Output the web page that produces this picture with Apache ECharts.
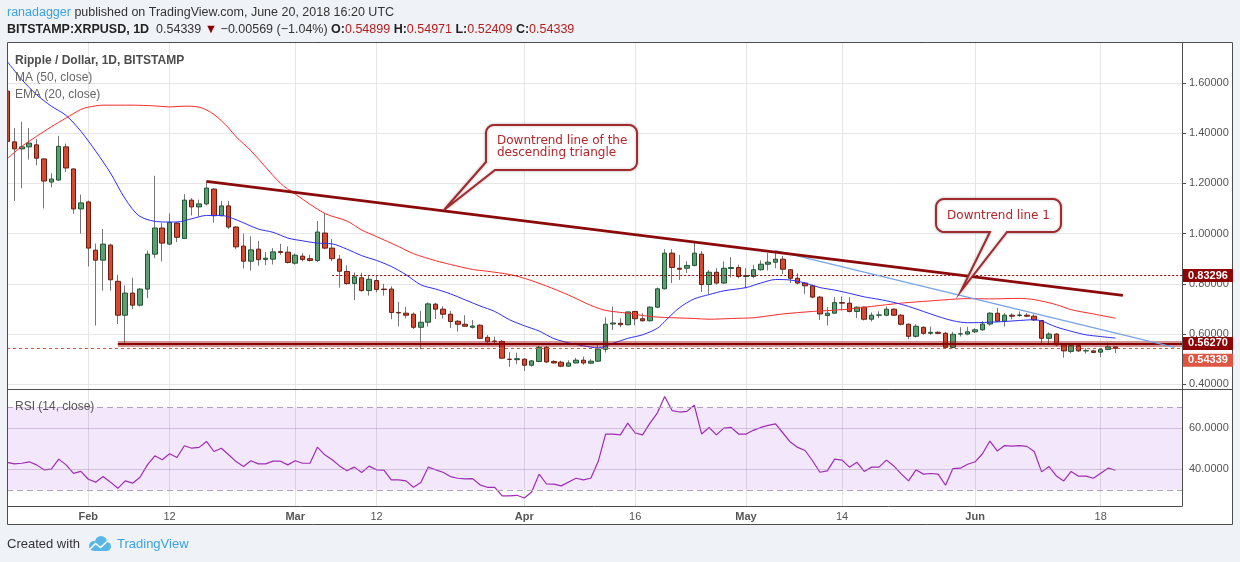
<!DOCTYPE html>
<html>
<head>
<meta charset="utf-8">
<title>Ripple / Dollar, 1D, BITSTAMP</title>
<script src="https://cdn.jsdelivr.net/npm/echarts@6/dist/echarts.min.js"></script>
<style>
  html, body { margin: 0; padding: 0; background: #eff2f6; }
  #chart { width: 1240px; height: 562px; }
</style>
</head>
<body>
<div id="chart"></div>
<script>
// XRPUSD daily candles, 2018-01-21 .. 2018-06-20
const opens = [].concat(
  [1.567, 1.365, 1.337, 1.345, 1.353, 1.297, 1.205, 1.213, 1.345, 1.257, 1.098],
  [1.126, 0.934, 0.894, 0.954, 0.81, 0.675, 0.763, 0.715, 0.779, 0.918, 1.022, 0.958, 1.042, 0.98, 1.133, 1.106, 1.118, 1.177, 1.071, 1.11, 1.026, 0.95, 0.89, 0.938, 0.897, 0.898, 0.928, 0.926],
  [0.882, 0.91, 0.9, 0.893, 1.002, 0.942, 0.898, 0.849, 0.801, 0.824, 0.773, 0.813, 0.779, 0.779, 0.686, 0.683, 0.679, 0.627, 0.647, 0.719, 0.699, 0.679, 0.651, 0.639, 0.627, 0.635, 0.587, 0.572, 0.571, 0.5, 0.498],
  [0.5, 0.476, 0.491, 0.547, 0.491, 0.488, 0.472, 0.485, 0.496, 0.484, 0.492, 0.539, 0.64, 0.643, 0.637, 0.69, 0.661, 0.653, 0.707, 0.78, 0.922, 0.862, 0.862, 0.873, 0.918, 0.797, 0.846, 0.803, 0.861, 0.865],
  [0.829, 0.829, 0.856, 0.878, 0.886, 0.898, 0.856, 0.822, 0.803, 0.792, 0.747, 0.674, 0.683, 0.725, 0.723, 0.69, 0.707, 0.659, 0.675, 0.675, 0.699, 0.675, 0.639, 0.591, 0.627, 0.603, 0.607, 0.603, 0.547, 0.6, 0.6],
  [0.609, 0.617, 0.64, 0.683, 0.651, 0.675, 0.674, 0.675, 0.671, 0.654, 0.583, 0.6, 0.557, 0.531, 0.554, 0.533, 0.533, 0.528, 0.539, 0.54899]
)
const highs = [].concat(
  [1.62, 1.42, 1.445, 1.42, 1.377, 1.30, 1.24, 1.389, 1.358, 1.26, 1.155],
  [1.131, 0.96, 1.018, 0.96, 0.836, 0.793, 0.824, 0.783, 0.932, 1.23, 1.042, 1.08, 1.046, 1.157, 1.141, 1.135, 1.209, 1.18, 1.13, 1.13, 1.03, 1.0, 0.989, 0.971, 0.927, 0.942, 0.959, 0.949],
  [0.92, 0.922, 0.916, 1.05, 1.082, 0.978, 0.915, 0.874, 0.845, 0.844, 0.832, 0.832, 0.8, 0.79, 0.728, 0.708, 0.686, 0.692, 0.726, 0.724, 0.71, 0.692, 0.656, 0.675, 0.656, 0.639, 0.596, 0.59, 0.576, 0.528, 0.526],
  [0.504, 0.497, 0.553, 0.552, 0.496, 0.494, 0.496, 0.505, 0.51, 0.5, 0.558, 0.666, 0.709, 0.663, 0.69, 0.692, 0.683, 0.71, 0.785, 0.938, 0.938, 0.915, 0.89, 0.969, 0.93, 0.855, 0.862, 0.889, 0.906, 0.876],
  [0.862, 0.876, 0.893, 0.922, 0.933, 0.911, 0.858, 0.842, 0.806, 0.797, 0.752, 0.708, 0.747, 0.75, 0.747, 0.71, 0.71, 0.686, 0.69, 0.71, 0.702, 0.68, 0.643, 0.639, 0.63, 0.63, 0.611, 0.609, 0.609, 0.627, 0.629],
  [0.623, 0.651, 0.687, 0.704, 0.683, 0.683, 0.69, 0.683, 0.679, 0.656, 0.607, 0.604, 0.561, 0.561, 0.558, 0.544, 0.537, 0.541, 0.566, 0.54971]
)
const lows = [].concat(
  [1.30, 1.13, 1.18, 1.294, 1.272, 1.10, 1.184, 1.21, 1.245, 1.079, 1.0],
  [0.869, 0.634, 0.773, 0.773, 0.64, 0.563, 0.699, 0.71, 0.743, 0.902, 0.889, 0.954, 0.966, 0.98, 1.072, 1.068, 1.112, 1.044, 1.068, 1.018, 0.938, 0.861, 0.853, 0.872, 0.874, 0.877, 0.915, 0.881],
  [0.876, 0.889, 0.889, 0.887, 0.938, 0.89, 0.785, 0.796, 0.735, 0.769, 0.753, 0.766, 0.753, 0.659, 0.63, 0.663, 0.62, 0.54, 0.63, 0.66, 0.662, 0.624, 0.61, 0.63, 0.622, 0.58, 0.557, 0.56, 0.5, 0.47, 0.48],
  [0.453, 0.47, 0.488, 0.484, 0.482, 0.468, 0.47, 0.483, 0.478, 0.481, 0.489, 0.527, 0.616, 0.627, 0.635, 0.635, 0.65, 0.65, 0.703, 0.778, 0.803, 0.815, 0.843, 0.869, 0.767, 0.76, 0.797, 0.8, 0.825, 0.822],
  [0.782, 0.822, 0.852, 0.853, 0.862, 0.838, 0.803, 0.797, 0.76, 0.742, 0.656, 0.634, 0.68, 0.694, 0.686, 0.663, 0.654, 0.65, 0.663, 0.671, 0.672, 0.634, 0.579, 0.586, 0.597, 0.597, 0.599, 0.543, 0.543, 0.59, 0.595],
  [0.604, 0.613, 0.633, 0.647, 0.63, 0.659, 0.668, 0.667, 0.652, 0.56, 0.56, 0.551, 0.506, 0.523, 0.529, 0.522, 0.524, 0.508, 0.536, 0.52409]
)
const closes = [].concat(
  [1.367, 1.337, 1.345, 1.36, 1.30, 1.209, 1.217, 1.347, 1.261, 1.098, 1.122],
  [0.942, 0.894, 0.958, 0.816, 0.675, 0.763, 0.715, 0.779, 0.918, 1.022, 0.962, 1.044, 0.985, 1.133, 1.106, 1.118, 1.181, 1.071, 1.11, 1.026, 0.947, 0.89, 0.935, 0.896, 0.902, 0.927, 0.925, 0.885],
  [0.914, 0.897, 0.893, 1.006, 0.942, 0.9, 0.85, 0.801, 0.828, 0.773, 0.818, 0.777, 0.777, 0.686, 0.684, 0.675, 0.627, 0.647, 0.72, 0.699, 0.679, 0.65, 0.639, 0.631, 0.632, 0.583, 0.57, 0.571, 0.504, 0.499, 0.502],
  [0.476, 0.493, 0.547, 0.489, 0.485, 0.472, 0.485, 0.496, 0.485, 0.492, 0.54, 0.639, 0.644, 0.637, 0.688, 0.661, 0.653, 0.707, 0.78, 0.922, 0.865, 0.858, 0.873, 0.922, 0.797, 0.846, 0.803, 0.862, 0.865, 0.829],
  [0.833, 0.856, 0.878, 0.886, 0.898, 0.858, 0.822, 0.803, 0.792, 0.747, 0.68, 0.683, 0.725, 0.723, 0.69, 0.707, 0.659, 0.675, 0.676, 0.699, 0.675, 0.639, 0.591, 0.631, 0.603, 0.607, 0.603, 0.547, 0.599, 0.601, 0.609],
  [0.617, 0.64, 0.683, 0.651, 0.675, 0.671, 0.676, 0.671, 0.656, 0.583, 0.6, 0.557, 0.533, 0.554, 0.533, 0.534, 0.527, 0.538, 0.549, 0.54339]
)

// RSI (14, close), one value per day from 2018-01-21
const rsi = [].concat(
  [43.3, 42.6, 42.9, 43.6, 42.1, 39.7, 40, 44.9, 42.1, 38, 38.9],
  [35.1, 33.7, 36.4, 33.7, 30.7, 34.3, 33.2, 36.1, 42.1, 46.5, 44.6, 47.5, 45.7, 51.4, 50.2, 50.6, 53.5, 48.6, 50.2, 47, 43.7, 41.3, 44.1, 42.6, 42.6, 43.9, 43.9, 42.1],
  [44.1, 42.9, 42.9, 50.7, 47, 44.6, 41.6, 39.3, 41, 38.4, 41.5, 39.7, 39.5, 34.8, 34.8, 34.3, 31.2, 33.5, 41, 39.7, 38.5, 36.4, 35.6, 35.3, 35.4, 32.4, 31.2, 31.2, 27, 27, 27.3],
  [26, 28.9, 37.6, 32.8, 32.7, 31.9, 33.8, 35.6, 34.8, 35.6, 43.7, 57.1, 57.1, 56.7, 62.4, 57.6, 56.7, 62.4, 67.3, 75.4, 68.5, 67.8, 68.1, 71.1, 57.1, 60.3, 56.7, 60, 60.3, 57.1],
  [57.1, 58.9, 60.3, 61.3, 62, 57.6, 53.2, 50.6, 49.1, 44.1, 38.5, 39.2, 44.9, 44.4, 41, 43.4, 38.9, 41, 41, 44.4, 41.6, 37.7, 34.3, 39.7, 37.6, 37.9, 37.6, 32.2, 40.3, 40.5, 42.4],
  [43.6, 47.5, 53.7, 48.9, 51.5, 51.2, 51.5, 51.1, 48.6, 38.7, 41.3, 36.7, 34.3, 38.9, 36.6, 36.6, 35.6, 38, 40.5, 39.5]
)

// MA (50) and EMA (20)
const ma50 = [
  ['2018-01-21', 1.297], ['2018-01-23', 1.347], ['2018-01-25', 1.387], ['2018-01-27', 1.425], ['2018-01-29', 1.46],
  ['2018-01-31', 1.494], ['2018-02-01', 1.503], ['2018-02-03', 1.511], ['2018-02-07', 1.511], ['2018-02-10', 1.508],
  ['2018-02-12', 1.504], ['2018-02-14', 1.507], ['2018-02-16', 1.503], ['2018-02-18', 1.474], ['2018-02-20', 1.42],
  ['2018-02-21', 1.385], ['2018-02-23', 1.33], ['2018-02-27', 1.2], ['2018-03-01', 1.157], ['2018-03-05', 1.08],
  ['2018-03-08', 1.05], ['2018-03-10', 1.014], ['2018-03-12', 0.988], ['2018-03-15', 0.948], ['2018-03-17', 0.92],
  ['2018-03-20', 0.892], ['2018-03-22', 0.877], ['2018-03-25', 0.857], ['2018-03-27', 0.85], ['2018-03-30', 0.837],
  ['2018-04-01', 0.822], ['2018-04-04', 0.791], ['2018-04-07', 0.755], ['2018-04-10', 0.714], ['2018-04-12', 0.694],
  ['2018-04-15', 0.683], ['2018-04-18', 0.67], ['2018-04-20', 0.666], ['2018-04-24', 0.662], ['2018-04-26', 0.659],
  ['2018-04-29', 0.662], ['2018-05-02', 0.665], ['2018-05-06', 0.68], ['2018-05-10', 0.69], ['2018-05-14', 0.697],
  ['2018-05-18', 0.71], ['2018-05-22', 0.723], ['2018-05-26', 0.732], ['2018-05-31', 0.741], ['2018-06-03', 0.74],
  ['2018-06-07', 0.742], ['2018-06-09', 0.737], ['2018-06-12', 0.717], ['2018-06-14', 0.697], ['2018-06-17', 0.68],
  ['2018-06-20', 0.663]
]
const ema20 = [
  ['2018-01-21', 1.686], ['2018-01-23', 1.613], ['2018-01-25', 1.553], ['2018-01-27', 1.507], ['2018-01-29', 1.47],
  ['2018-01-31', 1.407], ['2018-02-02', 1.328], ['2018-02-04', 1.241], ['2018-02-06', 1.138], ['2018-02-08', 1.068],
  ['2018-02-11', 1.046], ['2018-02-13', 1.046], ['2018-02-15', 1.059], ['2018-02-17', 1.072], ['2018-02-19', 1.072],
  ['2018-02-21', 1.055], ['2018-02-24', 1.018], ['2018-02-26', 1.005], ['2018-02-28', 0.982], ['2018-03-02', 0.971],
  ['2018-03-04', 0.962], ['2018-03-06', 0.959], ['2018-03-08', 0.938], ['2018-03-10', 0.912], ['2018-03-12', 0.893],
  ['2018-03-14', 0.869], ['2018-03-16', 0.836], ['2018-03-18', 0.796], ['2018-03-20', 0.779], ['2018-03-22', 0.76],
  ['2018-03-24', 0.736], ['2018-03-26', 0.712], ['2018-03-28', 0.69], ['2018-03-30', 0.657], ['2018-04-01', 0.633],
  ['2018-04-03', 0.612], ['2018-04-05', 0.582], ['2018-04-07', 0.565], ['2018-04-09', 0.553], ['2018-04-11', 0.545],
  ['2018-04-13', 0.563], ['2018-04-15', 0.583], ['2018-04-17', 0.597], ['2018-04-19', 0.623], ['2018-04-20', 0.65],
  ['2018-04-22', 0.705], ['2018-04-24', 0.74], ['2018-04-26', 0.757], ['2018-04-28', 0.772], ['2018-05-01', 0.785],
  ['2018-05-03', 0.803], ['2018-05-05', 0.817], ['2018-05-07', 0.815], ['2018-05-09', 0.803], ['2018-05-11', 0.785],
  ['2018-05-13', 0.775], ['2018-05-15', 0.762], ['2018-05-17', 0.748], ['2018-05-19', 0.738], ['2018-05-21', 0.726],
  ['2018-05-23', 0.71], ['2018-05-25', 0.69], ['2018-05-27', 0.67], ['2018-05-29', 0.653], ['2018-05-31', 0.645],
  ['2018-06-03', 0.647], ['2018-06-05', 0.65], ['2018-06-07', 0.654], ['2018-06-09', 0.657], ['2018-06-10', 0.652],
  ['2018-06-12', 0.628], ['2018-06-14', 0.611], ['2018-06-16', 0.597], ['2018-06-18', 0.59], ['2018-06-20', 0.584]
]

// drawn lines and levels
const triangleLine = [['2018-02-17', 1.208], ['2018-06-21', 0.754]]
const downtrend1 = [['2018-05-05', 0.932], ['2018-06-28', 0.547]]
const supportLevel = 0.5627
const supportFrom = '2018-02-05'
const resistLevel = 0.83296
const resistFrom = '2018-03-06'
const lastPrice = 0.54339

const tickDays = ['2018-02-01', '2018-02-12', '2018-03-01', '2018-03-12', '2018-04-01', '2018-04-16', '2018-05-01', '2018-05-14', '2018-06-01', '2018-06-18']
const tickLabels = ['Feb', '12', 'Mar', '12', 'Apr', '16', 'May', '14', 'Jun', '18']

function dayList (from, to) {
  const out = []
  const d = new Date(from + 'T00:00:00Z')
  const end = new Date(to + 'T00:00:00Z')
  while (d <= end) {
    out.push(d.toISOString().slice(0, 10))
    d.setUTCDate(d.getUTCDate() + 1)
  }
  return out
}
const axisDays = dayList('2018-01-21', '2018-06-29')
const firstDay = axisDays[0]
const lastDay = axisDays[axisDays.length - 1]

const candles = opens.map((o, i) => [o, closes[i], lows[i], highs[i]])
const bodies = opens.map((o, i) => [o, closes[i], Math.min(o, closes[i]), Math.max(o, closes[i])])

const FONT = '"Liberation Sans", Arial, sans-serif'
const isTick = (idx, val) => tickDays.indexOf(val) >= 0
const onStep = (v, step) => Math.abs(v / step - Math.round(v / step)) < 1e-6

const hLine = (from, to, v, style) => [{ coord: [from, v], lineStyle: style }, { coord: [to, v] }]
const segLine = (seg, style) => [{ coord: seg[0], lineStyle: style }, { coord: seg[1] }]

const chart = echarts.init(document.getElementById('chart'), null, { renderer: 'canvas' })

const option = {
  animation: false,
  backgroundColor: '#ffffff',
  grid: [
    { left: 7, top: 42, width: 1175, height: 347 },
    { left: 7, top: 389, width: 1175, height: 117 }
  ],
  xAxis: [
    {
      type: 'category', gridIndex: 0, data: axisDays, boundaryGap: false,
      axisLine: { show: true, onZero: false, lineStyle: { color: '#4d4d4d' } },
      axisTick: { show: false },
      axisLabel: { show: false },
      splitLine: { show: true, interval: isTick, lineStyle: { color: '#e6e6e6' } }
    },
    {
      type: 'category', gridIndex: 1, data: axisDays, boundaryGap: false,
      axisLine: { show: true, onZero: false, lineStyle: { color: '#4d4d4d' } },
      axisTick: { show: false },
      axisLabel: {
        interval: isTick,
        margin: 5,
        formatter: function (val) {
          const t = tickLabels[tickDays.indexOf(val)]
          return /^\d/.test(t) ? '{d|' + t + '}' : '{m|' + t + '}'
        },
        rich: {
          m: { fontSize: 11, fontWeight: 'bold', color: '#555', fontFamily: FONT },
          d: { fontSize: 11, color: '#555', fontFamily: FONT }
        }
      },
      splitLine: { show: true, interval: isTick, lineStyle: { color: '#e3e3e3' } }
    }
  ],
  yAxis: [
    {
      type: 'value', gridIndex: 0, position: 'right',
      min: 0.3813, max: 1.7624, splitNumber: 7,
      axisLine: { show: true, lineStyle: { color: '#4d4d4d' } },
      axisTick: { show: true, length: 4, lineStyle: { color: '#4d4d4d' } },
      axisLabel: {
        color: '#555', fontSize: 11, fontFamily: FONT, margin: 7,
        formatter: v => onStep(v, 0.2) ? v.toFixed(5) : ''
      },
      splitLine: { lineStyle: { color: '#e6e6e6' } }
    },
    {
      type: 'value', gridIndex: 1, position: 'right',
      min: 22.1, max: 79, splitNumber: 5,
      axisLine: { show: true, lineStyle: { color: '#4d4d4d' } },
      axisTick: { show: false },
      axisLabel: {
        color: '#555', fontSize: 11, fontFamily: FONT, margin: 7,
        formatter: v => (v === 40 || v === 60) ? v.toFixed(4) : ''
      },
      splitLine: { show: false }
    }
  ],
  series: [
    {
      name: 'wicks', type: 'candlestick', xAxisIndex: 0, yAxisIndex: 0,
      data: candles, barWidth: 1, clip: true, silent: true,
      itemStyle: { color: '#777', color0: '#777', borderColor: '#777', borderColor0: '#777', borderWidth: 1 }
    },
    {
      name: 'XRPUSD', type: 'candlestick', xAxisIndex: 0, yAxisIndex: 0,
      data: bodies, barWidth: 5, clip: true, silent: true,
      itemStyle: { color: '#5c9d71', color0: '#d4492f', borderColor: '#1f5532', borderColor0: '#6b1c10', borderWidth: 1 }
    },
    {
      name: 'MA (50, close)', type: 'line', xAxisIndex: 0, yAxisIndex: 0,
      data: ma50, symbol: 'none', smooth: 0.3, silent: true,
      lineStyle: { color: '#ff2b2b', width: 1 }
    },
    {
      name: 'EMA (20, close)', type: 'line', xAxisIndex: 0, yAxisIndex: 0,
      data: ema20, symbol: 'none', smooth: 0.3, silent: true,
      lineStyle: { color: '#2e2eff', width: 1 }
    },
    {
      name: 'drawings', type: 'line', xAxisIndex: 0, yAxisIndex: 0, data: [],
      markLine: {
        silent: true, symbol: ['none', 'none'], label: { show: false }, animation: false,
        data: [
          hLine(firstDay, lastDay, lastPrice, { color: '#e2533d', width: 1, type: [3, 3] }),
          hLine(resistFrom, lastDay, resistLevel, { color: '#9a0000', width: 1, type: [2, 2] }),
          hLine(supportFrom, lastDay, supportLevel, { color: 'rgba(150,20,20,0.45)', width: 6, type: 'solid' }),
          hLine(supportFrom, lastDay, supportLevel, { color: '#8b0000', width: 2, type: 'solid' }),
          segLine(downtrend1, { color: '#76a3e6', width: 1.2, type: 'solid' }),
          segLine(triangleLine, { color: '#8b0a0a', width: 2.8, type: 'solid' })
        ]
      }
    },
    {
      name: 'RSI (14, close)', type: 'line', xAxisIndex: 1, yAxisIndex: 1,
      data: rsi, symbol: 'none', silent: true,
      lineStyle: { color: '#a02cb4', width: 1.2 },
      markArea: {
        silent: true,
        itemStyle: { color: 'rgba(140, 20, 230, 0.1)' },
        data: [[{ yAxis: 30 }, { yAxis: 70 }]]
      },
      markLine: {
        silent: true, symbol: ['none', 'none'], label: { show: false }, animation: false,
        data: [
          { yAxis: 70, lineStyle: { color: '#b4a0c0', type: [6, 4], width: 1 } },
          { yAxis: 30, lineStyle: { color: '#b4a0c0', type: [6, 4], width: 1 } },
          { yAxis: 60, lineStyle: { color: 'rgba(170,140,185,0.45)', type: 'solid', width: 1 } },
          { yAxis: 40, lineStyle: { color: 'rgba(170,140,185,0.45)', type: 'solid', width: 1 } }
        ]
      }
    }
  ]
}
chart.setOption(option)

// ---------- decorations ----------
function shapePoints (items) {
  const pts = []
  items.forEach(it => {
    if (it.arc) {
      const [cx, cy, r, a0, a1] = it.arc
      for (let k = 0; k <= 6; k++) {
        const a = (a0 + (a1 - a0) * k / 6) * Math.PI / 180
        pts.push([cx + r * Math.cos(a), cy + r * Math.sin(a)])
      }
    } else pts.push(it)
  })
  return pts
}

// callout 1: box 486..637 x 125..170, pointer to (444, 210)
const c1 = { l: 486, t: 125, r: 637, b: 170, rad: 8 }
const callout1 = shapePoints([
  [c1.l + c1.rad, c1.t], [c1.r - c1.rad, c1.t],
  { arc: [c1.r - c1.rad, c1.t + c1.rad, c1.rad, -90, 0] },
  { arc: [c1.r - c1.rad, c1.b - c1.rad, c1.rad, 0, 90] },
  [495, c1.b], [444, 210], [c1.l, 162],
  { arc: [c1.l + c1.rad, c1.t + c1.rad, c1.rad, 180, 270] }
])
// callout 2: box 936..1061 x 199..232, pointer to (961, 291)
const c2 = { l: 936, t: 199, r: 1061, b: 232, rad: 8 }
const callout2 = shapePoints([
  [c2.l + c2.rad, c2.t], [c2.r - c2.rad, c2.t],
  { arc: [c2.r - c2.rad, c2.t + c2.rad, c2.rad, -90, 0] },
  { arc: [c2.r - c2.rad, c2.b - c2.rad, c2.rad, 0, 90] },
  [1007, c2.b], [961, 291], [990, c2.b],
  { arc: [c2.l + c2.rad, c2.b - c2.rad, c2.rad, 90, 180] },
  { arc: [c2.l + c2.rad, c2.t + c2.rad, c2.rad, 180, 270] }
])

const pageBg = '#eff2f6'
const calloutStyle = { fill: '#ffffff', stroke: '#a3292d', lineWidth: 2, shadowBlur: 3, shadowColor: 'rgba(0,0,0,0.25)' }
const calloutFont = '12px "DejaVu Sans", Verdana, sans-serif'

const yPx = v => chart.convertToPixel({ yAxisIndex: 0 }, v)
const priceBoxes = [
  { v: resistLevel, color: '#8e0303', dy: 0 },
  { v: supportLevel, color: '#8e0303', dy: 0 },
  { v: lastPrice, color: '#de5641', dy: 12 }
]

const elements = [
  { type: 'rect', z: 50, shape: { x: 0, y: 0, width: 1240, height: 42 }, style: { fill: pageBg } },
  { type: 'rect', z: 50, shape: { x: 0, y: 525, width: 1240, height: 37 }, style: { fill: pageBg } },
  { type: 'rect', z: 50, shape: { x: 0, y: 42, width: 7, height: 483 }, style: { fill: pageBg } },
  { type: 'rect', z: 50, shape: { x: 1233, y: 42, width: 7, height: 483 }, style: { fill: pageBg } },
  { type: 'rect', z: 60, shape: { x: 7.5, y: 42.5, width: 1225, height: 482 }, style: { fill: null, stroke: '#4d4d4d', lineWidth: 1 } },
  { type: 'line', z: 60, shape: { x1: 1182, y1: 389.5, x2: 1233, y2: 389.5 }, style: { stroke: '#4d4d4d', lineWidth: 1 } },

  {
    type: 'text', z: 60, x: 7, y: 13,
    style: {
      text: '{u|ranadagger}{t| published on TradingView.com, June 20, 2018 16:20 UTC}',
      verticalAlign: 'middle', font: '12.5px ' + FONT,
      rich: { u: { fill: '#3aa3e0', font: '12.5px ' + FONT }, t: { fill: '#333', font: '12.5px ' + FONT } }
    }
  },
  {
    type: 'text', z: 60, x: 7, y: 29.5,
    style: {
      text: '{b|BITSTAMP:XRPUSD, 1D}{n|  0.54339 }{a|▼}{n| \u22120.00569 (\u22121.04%) }{b|O:}{r|0.54899}{b| H:}{r|0.54971}{b| L:}{r|0.52409}{b| C:}{r|0.54339}',
      verticalAlign: 'middle', font: '12.5px ' + FONT,
      rich: {
        b: { fill: '#222', font: 'bold 12.5px ' + FONT },
        n: { fill: '#333', font: '12.5px ' + FONT },
        a: { fill: '#8b0000', font: '12.5px ' + FONT },
        r: { fill: '#b71c1c', font: '12.5px ' + FONT }
      }
    }
  },

  { type: 'text', z: 60, x: 15, y: 60.5, style: { text: 'Ripple / Dollar, 1D, BITSTAMP', fill: '#4d4d4d', font: 'bold 12px ' + FONT, verticalAlign: 'middle' } },
  { type: 'text', z: 60, x: 15, y: 77.5, style: { text: 'MA (50, close)', fill: '#666', font: '12px ' + FONT, verticalAlign: 'middle' } },
  { type: 'text', z: 60, x: 15, y: 94.5, style: { text: 'EMA (20, close)', fill: '#666', font: '12px ' + FONT, verticalAlign: 'middle' } },
  { type: 'text', z: 60, x: 15, y: 407, style: { text: 'RSI (14, close)', fill: '#555', font: '12px ' + FONT, verticalAlign: 'middle' } },

  { type: 'polygon', z: 70, shape: { points: callout1 }, style: calloutStyle },
  { type: 'text', z: 71, x: 497, y: 135, style: { text: 'Downtrend line of the\ndescending triangle', fill: '#b2262b', font: calloutFont, lineHeight: 12, verticalAlign: 'top' } },
  { type: 'polygon', z: 70, shape: { points: callout2 }, style: calloutStyle },
  { type: 'text', z: 71, x: 998.5, y: 215.5, style: { text: 'Downtrend line 1', fill: '#b2262b', font: calloutFont, align: 'center', verticalAlign: 'middle' } },

  { type: 'text', z: 60, x: 7, y: 544, style: { text: 'Created with', fill: '#333', font: '13px ' + FONT, verticalAlign: 'middle' } },
  { type: 'circle', z: 60, shape: { cx: 94, cy: 546, r: 5 }, style: { fill: '#5ab6e6' } },
  { type: 'circle', z: 60, shape: { cx: 101, cy: 542, r: 6 }, style: { fill: '#5ab6e6' } },
  { type: 'circle', z: 60, shape: { cx: 106.5, cy: 546.5, r: 4.5 }, style: { fill: '#5ab6e6' } },
  { type: 'rect', z: 60, shape: { x: 94, y: 545, width: 12.5, height: 6 }, style: { fill: '#5ab6e6' } },
  { type: 'polyline', z: 61, shape: { points: [[90, 549], [95.5, 543.5], [100.5, 547.5], [107, 541.5]] }, style: { stroke: '#ffffff', lineWidth: 1.6, fill: null } },
  { type: 'text', z: 60, x: 117, y: 544, style: { text: 'TradingView', fill: '#3aa3e0', font: '13px ' + FONT, verticalAlign: 'middle' } }
]

priceBoxes.forEach(p => {
  const y = yPx(p.v) + p.dy
  elements.push({ type: 'rect', z: 80, shape: { x: 1183, y: y - 6.5, width: 50, height: 13 }, style: { fill: p.color } })
  elements.push({ type: 'text', z: 81, x: 1208, y: y, style: { text: p.v.toFixed(5), fill: '#fff', font: 'bold 11px ' + FONT, align: 'center', verticalAlign: 'middle' } })
})

chart.setOption({ graphic: { elements: elements } })
</script>
</body>
</html>
